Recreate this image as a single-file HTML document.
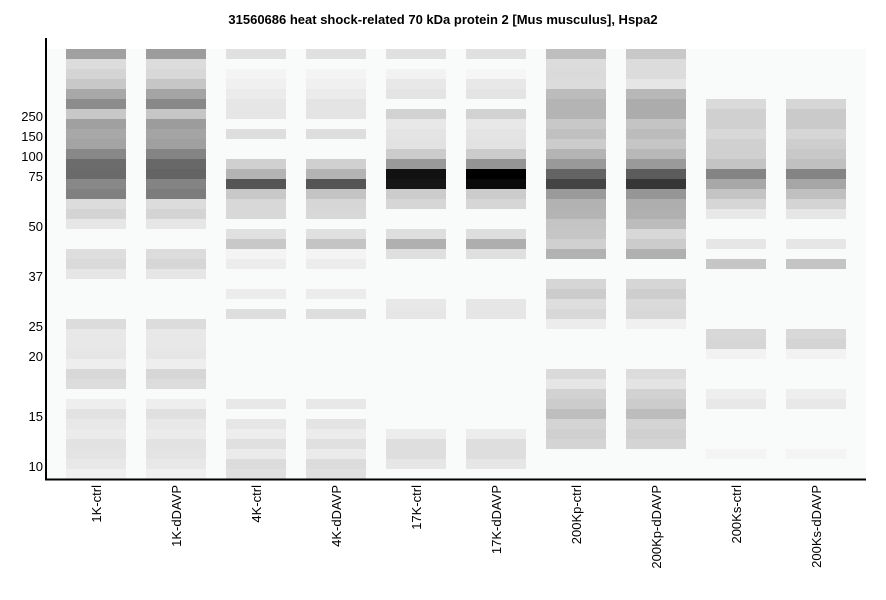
<!DOCTYPE html>
<html><head><meta charset="utf-8"><style>
body{margin:0;background:#fff;width:886px;height:595px;overflow:hidden}
svg text{font-family:"Liberation Sans",sans-serif;font-size:13px;fill:#000}
</style></head><body>
<svg id="s" width="886" height="595" xmlns="http://www.w3.org/2000/svg">
<text x="443" y="24" text-anchor="middle" style="font-weight:bold;font-size:13px">31560686 heat shock-related 70 kDa protein 2 [Mus musculus], Hspa2</text>
<rect x="47" y="49" width="819" height="430" fill="#f9fafa"/>
<g id="bands"></g>
<line x1="46" y1="38" x2="46" y2="480" stroke="#000" stroke-width="2"/>
<line x1="45" y1="479.5" x2="866" y2="479.5" stroke="#000" stroke-width="2"/>
<g text-anchor="end">
<text x="43" y="121">250</text><text x="43" y="141">150</text><text x="43" y="161">100</text>
<text x="43" y="181">75</text><text x="43" y="231">50</text><text x="43" y="281">37</text>
<text x="43" y="331">25</text><text x="43" y="361">20</text><text x="43" y="421">15</text><text x="43" y="471">10</text>
</g>
<g text-anchor="end">
<text transform="translate(101,485) rotate(-90)">1K-ctrl</text>
<text transform="translate(181,485) rotate(-90)">1K-dDAVP</text>
<text transform="translate(261,485) rotate(-90)">4K-ctrl</text>
<text transform="translate(341,485) rotate(-90)">4K-dDAVP</text>
<text transform="translate(421,485) rotate(-90)">17K-ctrl</text>
<text transform="translate(501,485) rotate(-90)">17K-dDAVP</text>
<text transform="translate(581,485) rotate(-90)">200Kp-ctrl</text>
<text transform="translate(661,485) rotate(-90)">200Kp-dDAVP</text>
<text transform="translate(741,485) rotate(-90)">200Ks-ctrl</text>
<text transform="translate(821,485) rotate(-90)">200Ks-dDAVP</text>
</g>
</svg>
<script>
var L1="a0 dc d4 c8 a8 8c c8 a0 a8 a4 88 6c 6a 88 80 dc d4 e6 - - de da e6 - - - - dc e8 e8 e6 ee d8 dc - ee e2 e8 eb e2 e4 e8 f0";
var L2="9c dc d8 c6 a4 88 c6 9c a4 a0 84 68 64 84 7c dc d4 e6 - - dc d6 e6 - - - - dc e8 e8 e6 ee d6 dc - ee e0 e8 eb e2 e4 e8 f0";
var L3="e0 - f4 f0 eb e6 e6 - de - - d0 b4 55 c8 d8 d8 - e0 c8 f4 ec - - ec - de - - - - - - - - e8 - e6 ed e0 eb dc e0";
var L4="e0 - f4 f0 eb e4 e4 - de - - d0 b4 55 c4 d6 d8 - e0 c4 f4 ec - - ec - de - - - - - - - - e8 - e4 ec e0 eb dc e0";
var L5="e0 - f2 e8 e4 - d2 e8 e4 e2 cc 99 11 16 cc d6 - - de b0 df - - - - e8 e6 - - - - - - - - - - - ec de de e6 -";
var L6="e0 - f6 e8 e4 - d2 e8 e4 e2 cc 94 00 0a cc d6 - - de ae df - - - - e6 e6 - - - - - - - - - - - ec de de e6 -";
var L7="be dc da dc bc b4 b4 c8 c0 cc b4 99 64 44 9a b2 b4 c4 c6 d0 b2 - - d6 cc de d8 ec - - - - da e6 d2 cc be d4 d0 d4 - - -";
var L8="c8 dc dc e6 b8 ac ac c4 bc c6 b8 9a 5c 36 96 ae b0 bc d8 cc b0 - - d6 ce da d8 f0 - - - - dc e4 d2 cc bc d4 d0 d4 - - -";
var L9="- - - - - da d0 d0 d8 d0 d0 c4 84 a8 c4 d6 e8 - - e6 - c6 - - - - - - d8 d6 f2 - - - ee e8 - - - - f4 - -";
var L10="- - - - - d6 ca ca d6 ce c8 c0 84 a6 c0 d4 e6 - - e6 - c4 - - - - - - d8 d4 f2 - - - ee e8 - - - - f4 - -";
var lanes=[L1,L2,L3,L4,L5,L6,L7,L8,L9,L10],h="";
lanes.forEach(function(l,i){l.split(" ").forEach(function(v,r){if(v!="-"){h+='<rect x="'+(66+80*i)+'" y="'+(49+10*r)+'" width="60" height="10" fill="#'+v+v+v+'"/>';}});});
document.getElementById("bands").innerHTML=h;
</script>
</body></html>
